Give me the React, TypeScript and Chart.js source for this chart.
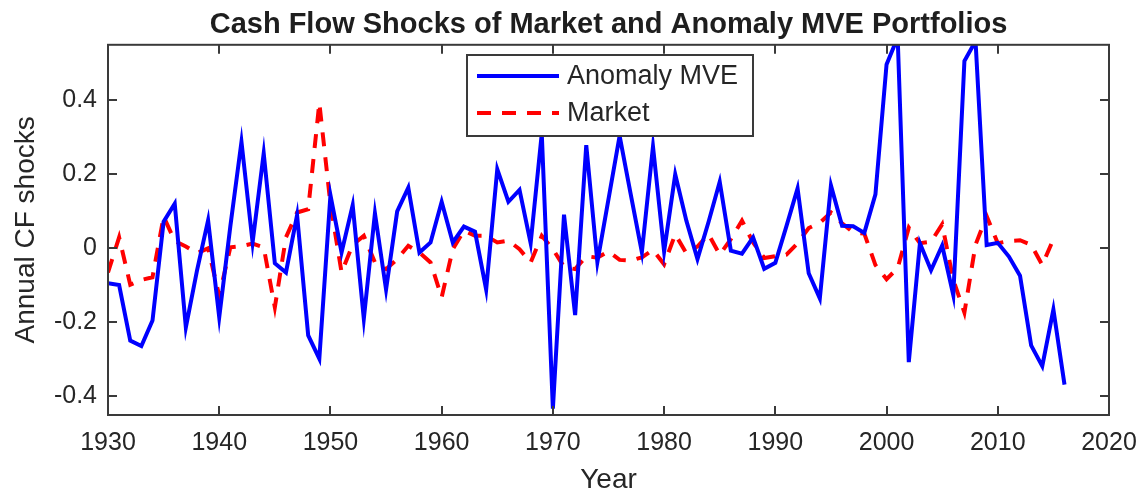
import React, { useEffect, useRef } from 'react';
import { Chart, registerables } from 'chart.js';

Chart.register(...registerables);

// Annual cash-flow shocks, one value per year starting in 1930
const firstYear = 1930;

const anomalyMVE = [
  -0.094, -0.099, -0.249, -0.264, -0.195, 0.072, 0.121, -0.213, -0.06, 0.076,
  -0.186, 0.06, 0.288, 0.016, 0.257, -0.04, -0.065, 0.09, -0.235, -0.298,
  0.144, -0.011, 0.117, -0.19, 0.095, -0.111, 0.1, 0.164, -0.011, 0.016,
  0.126, 0.016, 0.059, 0.045, -0.111, 0.214, 0.126, 0.158, 0.014, 0.31,
  -0.433, 0.091, -0.18, 0.279, -0.037, 0.133, 0.304, 0.146, -0.01, 0.275,
  -0.008, 0.2, 0.075, -0.029, 0.072, 0.18, -0.006, -0.014, 0.03, -0.055,
  -0.039, 0.06, 0.162, -0.067, -0.135, 0.17, 0.061, 0.06, 0.042, 0.146,
  0.497, 0.57, -0.307, 0.014, -0.059, 0.008, -0.126, 0.506, 0.56, 0.009,
  0.015, -0.022, -0.074, -0.262, -0.318, -0.165, -0.368,
];

const market = [
  -0.065, 0.03, -0.098, -0.085, -0.078, 0.086, 0.02, 0.005, -0.013, 0.0,
  -0.128, 0.003, 0.006, 0.013, 0.003, -0.159, 0.03, 0.097, 0.106, 0.393,
  0.12, -0.065, 0.01, 0.034, -0.038, -0.056, -0.029, 0.007, -0.011, -0.038,
  -0.132, -0.002, 0.048, 0.034, 0.034, 0.016, 0.021, -0.002, -0.038, 0.034,
  -0.002, -0.05, -0.056, -0.021, -0.025, -0.008, -0.031, -0.033, -0.024, -0.004,
  -0.043, 0.038, -0.013, 0.005, 0.038, -0.017, 0.025, 0.075, 0.016, -0.026,
  -0.021, -0.017, 0.014, 0.055, 0.069, 0.097, 0.068, 0.043, 0.04, -0.045,
  -0.083, -0.053, 0.056, 0.014, 0.018, 0.065, -0.085, -0.173, 0.01, 0.087,
  0.014, 0.02, 0.022, 0.01, -0.045, 0.025,
];

const xTickValues = [1930, 1940, 1950, 1960, 1970, 1980, 1990, 2000, 2010, 2020];
const yTickValues = [-0.4, -0.2, 0, 0.2, 0.4];

const FONT = "'Liberation Sans', Arial, Helvetica, sans-serif";
const TEXT = '#262626';
const AXIS = '#3a3a3a';

const toPoints = (values: number[]) => values.map((v, i) => ({ x: firstYear + i, y: v }));

// Box around the axes with inward ticks on all four sides
const axesBox = {
  id: 'axesBox',
  afterDatasetsDraw(chart: any) {
    const { ctx, chartArea: a, scales } = chart;
    const len = 9;
    ctx.save();
    ctx.strokeStyle = AXIS;
    ctx.lineWidth = 2;
    ctx.setLineDash([]);
    ctx.strokeRect(a.left, a.top, a.right - a.left, a.bottom - a.top);
    ctx.beginPath();
    for (const v of xTickValues) {
      const px = Math.round(scales.x.getPixelForValue(v));
      ctx.moveTo(px, a.bottom);
      ctx.lineTo(px, a.bottom - len);
      ctx.moveTo(px, a.top);
      ctx.lineTo(px, a.top + len);
    }
    for (const v of yTickValues) {
      const py = Math.round(scales.y.getPixelForValue(v));
      ctx.moveTo(a.left, py);
      ctx.lineTo(a.left + len, py);
      ctx.moveTo(a.right, py);
      ctx.lineTo(a.right - len, py);
    }
    ctx.stroke();
    ctx.restore();
  },
};

// Boxed legend inside the plot area
const insetLegend = {
  id: 'insetLegend',
  afterDraw(chart: any) {
    const { ctx } = chart;
    const bx = 467, by = 55, bw = 286, bh = 81;
    ctx.save();
    ctx.fillStyle = '#ffffff';
    ctx.fillRect(bx, by, bw, bh);
    ctx.strokeStyle = AXIS;
    ctx.lineWidth = 2;
    ctx.setLineDash([]);
    ctx.strokeRect(bx, by, bw, bh);
    chart.data.datasets.forEach((ds: any, i: number) => {
      const y = by + 21 + i * 37;
      ctx.beginPath();
      ctx.strokeStyle = ds.borderColor;
      ctx.lineWidth = ds.borderWidth;
      ctx.setLineDash(ds.borderDash || []);
      ctx.moveTo(bx + 10, y);
      ctx.lineTo(bx + 92, y);
      ctx.stroke();
      ctx.setLineDash([]);
      ctx.fillStyle = TEXT;
      ctx.font = `27px ${FONT}`;
      ctx.textBaseline = 'middle';
      ctx.textAlign = 'left';
      ctx.fillText(ds.label, bx + 100, y + 1);
    });
    ctx.restore();
  },
};

export default function App() {
  const canvasRef = useRef<HTMLCanvasElement | null>(null);

  useEffect(() => {
    const canvas = canvasRef.current;
    if (!canvas) return;
    Chart.defaults.font.family = FONT;

    const chart = new Chart(canvas, {
      type: 'line',
      data: {
        datasets: [
          {
            label: 'Anomaly MVE',
            data: toPoints(anomalyMVE),
            borderColor: '#0000ff',
            borderWidth: 4,
            pointRadius: 0,
            tension: 0,
            fill: false,
            clip: 0,
          },
          {
            label: 'Market',
            data: toPoints(market),
            borderColor: '#ff0000',
            borderWidth: 4,
            borderDash: [14, 11],
            pointRadius: 0,
            tension: 0,
            fill: false,
            clip: 0,
          },
        ],
      },
      options: {
        animation: false,
        responsive: false,
        layout: { padding: { left: 0, right: 34, top: 0, bottom: 0 } },
        plugins: {
          legend: { display: false },
          tooltip: { enabled: false },
          title: {
            display: true,
            text: 'Cash Flow Shocks of Market and Anomaly MVE Portfolios',
            fullSize: false,
            color: '#1e1e1e',
            font: { family: FONT, size: 29, weight: 'bold', lineHeight: 1.2 },
            padding: { top: 8, bottom: 2 },
          },
        },
        scales: {
          x: {
            type: 'linear',
            min: 1930,
            max: 2020,
            afterBuildTicks: (s: any) => {
              s.ticks = xTickValues.map((v) => ({ value: v }));
            },
            afterFit: (s: any) => {
              s.height = 79;
              s.paddingLeft = 0;
              s.paddingRight = 0;
            },
            grid: { display: false, drawTicks: false },
            border: { display: false },
            ticks: {
              autoSkip: false,
              maxRotation: 0,
              padding: 13,
              color: TEXT,
              font: { family: FONT, size: 25 },
              callback: (v: any) => String(v),
            },
            title: {
              display: true,
              text: 'Year',
              color: TEXT,
              font: { family: FONT, size: 28, lineHeight: 1 },
              padding: { top: 0, bottom: 0 },
            },
          },
          y: {
            type: 'linear',
            min: -0.45,
            max: 0.55,
            afterBuildTicks: (s: any) => {
              s.ticks = yTickValues.map((v) => ({ value: v }));
            },
            afterFit: (s: any) => {
              s.width = 108;
            },
            grid: { display: false, drawTicks: false },
            border: { display: false },
            ticks: {
              padding: 11,
              color: TEXT,
              font: { family: FONT, size: 25 },
              callback: (v: any) => (Number(v) === 0 ? '0' : Number(v).toFixed(1)),
            },
            title: {
              display: true,
              text: 'Annual CF shocks',
              color: TEXT,
              font: { family: FONT, size: 28, lineHeight: 1.2 },
              padding: { top: 9, bottom: 0 },
            },
          },
        },
      },
      plugins: [axesBox, insetLegend],
    } as any);

    return () => chart.destroy();
  }, []);

  return (
    <div style={{ position: 'absolute', left: 0, top: 0, width: 1143, height: 494, background: '#fff' }}>
      <canvas ref={canvasRef} width={1143} height={494} style={{ display: 'block' }} />
    </div>
  );
}
